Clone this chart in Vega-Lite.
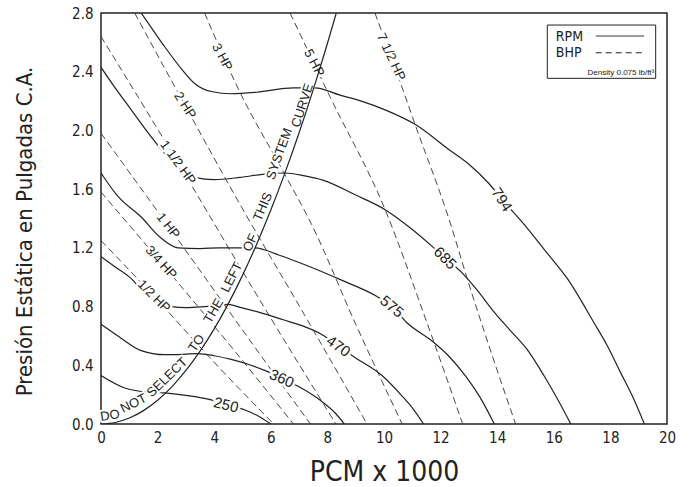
{
  "$schema": "https://vega.github.io/schema/vega-lite/v6.json",
  "width": 566,
  "height": 411,
  "autosize": {"type": "none"},
  "padding": {"left": 101, "top": 13, "right": 22, "bottom": 63},
  "background": "white",
  "config": {
    "view": {"stroke": "#222", "strokeWidth": 1.5},
    "axis": {
      "grid": false, "ticks": false, "domain": false,
      "labelFont": "DejaVu Sans Condensed, sans-serif",
      "titleFont": "DejaVu Sans Condensed, sans-serif",
      "labelFontSize": 15, "labelColor": "#222", "titleColor": "#222",
      "titleFontWeight": "normal", "labelFlush": false, "labelOverlap": false
    }
  },
  "datasets": {
    "rpm": [
      {"rpm": "250", "x": 0, "y": 0.33}, {"rpm": "250", "x": 0.84, "y": 0.245}, {"rpm": "250", "x": 1.6, "y": 0.218}, {"rpm": "250", "x": 2.25, "y": 0.212}, {"rpm": "250", "x": 3.0, "y": 0.195}, {"rpm": "250", "x": 3.78, "y": 0.17}, {"rpm": "250", "x": 4.4, "y": 0.135}, {"rpm": "250", "x": 5.09, "y": 0.095}, {"rpm": "250", "x": 5.6, "y": 0.05}, {"rpm": "250", "x": 6.0, "y": 0},
      {"rpm": "360", "x": 0, "y": 0.68}, {"rpm": "360", "x": 0.6, "y": 0.6}, {"rpm": "360", "x": 1.42, "y": 0.5}, {"rpm": "360", "x": 2.25, "y": 0.472}, {"rpm": "360", "x": 2.9, "y": 0.475}, {"rpm": "360", "x": 3.43, "y": 0.48}, {"rpm": "360", "x": 4.0, "y": 0.465}, {"rpm": "360", "x": 4.6, "y": 0.44}, {"rpm": "360", "x": 5.3, "y": 0.4}, {"rpm": "360", "x": 5.85, "y": 0.36}, {"rpm": "360", "x": 6.4, "y": 0.31}, {"rpm": "360", "x": 7.03, "y": 0.25}, {"rpm": "360", "x": 7.86, "y": 0.145}, {"rpm": "360", "x": 8.3, "y": 0.07}, {"rpm": "360", "x": 8.6, "y": 0},
      {"rpm": "470", "x": 0, "y": 1.14}, {"rpm": "470", "x": 0.5, "y": 1.07}, {"rpm": "470", "x": 1.07, "y": 0.99}, {"rpm": "470", "x": 1.54, "y": 0.89}, {"rpm": "470", "x": 2.0, "y": 0.83}, {"rpm": "470", "x": 2.49, "y": 0.8}, {"rpm": "470", "x": 3.0, "y": 0.793}, {"rpm": "470", "x": 3.66, "y": 0.8}, {"rpm": "470", "x": 4.49, "y": 0.815}, {"rpm": "470", "x": 4.91, "y": 0.795}, {"rpm": "470", "x": 5.6, "y": 0.76}, {"rpm": "470", "x": 6.44, "y": 0.71}, {"rpm": "470", "x": 7.1, "y": 0.67}, {"rpm": "470", "x": 7.8, "y": 0.61}, {"rpm": "470", "x": 8.4, "y": 0.53}, {"rpm": "470", "x": 9.0, "y": 0.45}, {"rpm": "470", "x": 9.93, "y": 0.33}, {"rpm": "470", "x": 10.64, "y": 0.19}, {"rpm": "470", "x": 11.0, "y": 0.11}, {"rpm": "470", "x": 11.4, "y": 0},
      {"rpm": "575", "x": 0, "y": 1.71}, {"rpm": "575", "x": 0.6, "y": 1.55}, {"rpm": "575", "x": 1.42, "y": 1.41}, {"rpm": "575", "x": 2.1, "y": 1.27}, {"rpm": "575", "x": 2.72, "y": 1.2}, {"rpm": "575", "x": 3.5, "y": 1.195}, {"rpm": "575", "x": 4.2, "y": 1.2}, {"rpm": "575", "x": 4.72, "y": 1.2}, {"rpm": "575", "x": 5.44, "y": 1.2}, {"rpm": "575", "x": 6.3, "y": 1.15}, {"rpm": "575", "x": 7.27, "y": 1.08}, {"rpm": "575", "x": 8.5, "y": 0.98}, {"rpm": "575", "x": 9.74, "y": 0.87}, {"rpm": "575", "x": 10.28, "y": 0.8}, {"rpm": "575", "x": 10.81, "y": 0.69}, {"rpm": "575", "x": 11.7, "y": 0.565}, {"rpm": "575", "x": 12.3, "y": 0.46}, {"rpm": "575", "x": 12.87, "y": 0.33}, {"rpm": "575", "x": 13.4, "y": 0.18}, {"rpm": "575", "x": 13.9, "y": 0},
      {"rpm": "685", "x": 0, "y": 2.43}, {"rpm": "685", "x": 0.5, "y": 2.29}, {"rpm": "685", "x": 1.07, "y": 2.14}, {"rpm": "685", "x": 1.6, "y": 2.0}, {"rpm": "685", "x": 2.13, "y": 1.87}, {"rpm": "685", "x": 2.7, "y": 1.75}, {"rpm": "685", "x": 3.31, "y": 1.68}, {"rpm": "685", "x": 4.0, "y": 1.665}, {"rpm": "685", "x": 4.91, "y": 1.68}, {"rpm": "685", "x": 5.7, "y": 1.7}, {"rpm": "685", "x": 6.5, "y": 1.71}, {"rpm": "685", "x": 7.2, "y": 1.69}, {"rpm": "685", "x": 7.86, "y": 1.66}, {"rpm": "685", "x": 9.0, "y": 1.56}, {"rpm": "685", "x": 10.04, "y": 1.46}, {"rpm": "685", "x": 10.9, "y": 1.34}, {"rpm": "685", "x": 11.7, "y": 1.21}, {"rpm": "685", "x": 12.16, "y": 1.13}, {"rpm": "685", "x": 12.76, "y": 1.03}, {"rpm": "685", "x": 13.3, "y": 0.91}, {"rpm": "685", "x": 13.82, "y": 0.78}, {"rpm": "685", "x": 14.45, "y": 0.64}, {"rpm": "685", "x": 15.05, "y": 0.51}, {"rpm": "685", "x": 15.65, "y": 0.33}, {"rpm": "685", "x": 16.1, "y": 0.18}, {"rpm": "685", "x": 16.6, "y": 0},
      {"rpm": "794", "x": 1.42, "y": 2.8}, {"rpm": "794", "x": 1.85, "y": 2.68}, {"rpm": "794", "x": 2.25, "y": 2.57}, {"rpm": "794", "x": 2.84, "y": 2.42}, {"rpm": "794", "x": 3.31, "y": 2.32}, {"rpm": "794", "x": 3.9, "y": 2.265}, {"rpm": "794", "x": 4.6, "y": 2.25}, {"rpm": "794", "x": 5.5, "y": 2.26}, {"rpm": "794", "x": 6.8, "y": 2.29}, {"rpm": "794", "x": 7.56, "y": 2.29}, {"rpm": "794", "x": 8.45, "y": 2.24}, {"rpm": "794", "x": 9.2, "y": 2.2}, {"rpm": "794", "x": 10.04, "y": 2.14}, {"rpm": "794", "x": 11.11, "y": 2.04}, {"rpm": "794", "x": 12.29, "y": 1.87}, {"rpm": "794", "x": 13.0, "y": 1.77}, {"rpm": "794", "x": 13.7, "y": 1.64}, {"rpm": "794", "x": 14.17, "y": 1.53}, {"rpm": "794", "x": 14.95, "y": 1.36}, {"rpm": "794", "x": 15.7, "y": 1.18}, {"rpm": "794", "x": 16.48, "y": 0.99}, {"rpm": "794", "x": 17.42, "y": 0.69}, {"rpm": "794", "x": 17.9, "y": 0.53}, {"rpm": "794", "x": 18.36, "y": 0.35}, {"rpm": "794", "x": 18.8, "y": 0.18}, {"rpm": "794", "x": 19.2, "y": 0}
    ],
    "bhp": [
      {"hp": "1/2", "x": 0, "y": 1.25}, {"hp": "1/2", "x": 1.87, "y": 0.87}, {"hp": "1/2", "x": 4.0, "y": 0.42}, {"hp": "1/2", "x": 6.1, "y": 0},
      {"hp": "3/4", "x": 0, "y": 1.58}, {"hp": "3/4", "x": 2.12, "y": 1.1}, {"hp": "3/4", "x": 4.5, "y": 0.55}, {"hp": "3/4", "x": 6.8, "y": 0},
      {"hp": "1", "x": 0, "y": 1.98}, {"hp": "1", "x": 2.37, "y": 1.35}, {"hp": "1", "x": 5.0, "y": 0.64}, {"hp": "1", "x": 7.4, "y": 0},
      {"hp": "1 1/2", "x": 0, "y": 2.64}, {"hp": "1 1/2", "x": 2.72, "y": 1.78}, {"hp": "1 1/2", "x": 5.5, "y": 0.88}, {"hp": "1 1/2", "x": 8.3, "y": 0},
      {"hp": "2", "x": 1.19, "y": 2.8}, {"hp": "2", "x": 2.97, "y": 2.17}, {"hp": "2", "x": 4.96, "y": 1.48}, {"hp": "2", "x": 7.2, "y": 0.74}, {"hp": "2", "x": 9.4, "y": 0},
      {"hp": "3", "x": 3.66, "y": 2.8}, {"hp": "3", "x": 4.91, "y": 2.26}, {"hp": "3", "x": 6.44, "y": 1.72}, {"hp": "3", "x": 7.44, "y": 1.36}, {"hp": "3", "x": 9.0, "y": 0.68}, {"hp": "3", "x": 10.64, "y": 0},
      {"hp": "5", "x": 6.68, "y": 2.8}, {"hp": "5", "x": 8.09, "y": 2.23}, {"hp": "5", "x": 10.04, "y": 1.46}, {"hp": "5", "x": 11.5, "y": 0.7}, {"hp": "5", "x": 12.78, "y": 0},
      {"hp": "7 1/2", "x": 9.68, "y": 2.8}, {"hp": "7 1/2", "x": 10.7, "y": 2.26}, {"hp": "7 1/2", "x": 11.1, "y": 2.04}, {"hp": "7 1/2", "x": 12.29, "y": 1.4}, {"hp": "7 1/2", "x": 12.99, "y": 0.96}, {"hp": "7 1/2", "x": 13.8, "y": 0.48}, {"hp": "7 1/2", "x": 14.65, "y": 0}
    ],
    "system": [
      {"x": 0, "y": 0}, {"x": 0.5, "y": 0.0101}, {"x": 1, "y": 0.0405}, {"x": 1.5, "y": 0.0911}, {"x": 2, "y": 0.162}, {"x": 2.5, "y": 0.2531}, {"x": 3, "y": 0.3645}, {"x": 3.5, "y": 0.4961}, {"x": 4, "y": 0.648}, {"x": 4.5, "y": 0.8201}, {"x": 5, "y": 1.0125}, {"x": 5.5, "y": 1.2251}, {"x": 6, "y": 1.458}, {"x": 6.5, "y": 1.7111}, {"x": 7, "y": 1.9845}, {"x": 7.5, "y": 2.2781}, {"x": 8, "y": 2.592}, {"x": 8.31, "y": 2.7968}
    ],
    "labels": [
      {"x": 4.42, "y": 0.13, "t": "250", "a": 14, "s": 15},
      {"x": 6.39, "y": 0.31, "t": "360", "a": 24, "s": 15},
      {"x": 8.39, "y": 0.53, "t": "470", "a": 35, "s": 15},
      {"x": 10.28, "y": 0.8, "t": "575", "a": 40, "s": 15},
      {"x": 12.16, "y": 1.13, "t": "685", "a": 45, "s": 15},
      {"x": 14.17, "y": 1.53, "t": "794", "a": 57, "s": 15},
      {"x": 1.87, "y": 0.87, "t": "1/2 HP", "a": 45, "s": 13},
      {"x": 2.12, "y": 1.1, "t": "3/4 HP", "a": 48, "s": 13},
      {"x": 2.37, "y": 1.35, "t": "1 HP", "a": 52, "s": 13},
      {"x": 2.72, "y": 1.78, "t": "1 1/2 HP", "a": 54, "s": 13},
      {"x": 2.97, "y": 2.17, "t": "2 HP", "a": 57, "s": 13},
      {"x": 4.28, "y": 2.5, "t": "3 HP", "a": 62, "s": 13},
      {"x": 7.53, "y": 2.46, "t": "5 HP", "a": 62, "s": 13},
      {"x": 10.25, "y": 2.5, "t": "7 1/2 HP", "a": 65, "s": 13}
    ],
    "words": [
      {"x": 0.32, "y": 0.058, "t": "DO", "a": -9},
      {"x": 1.15, "y": 0.14, "t": "NOT", "a": -26},
      {"x": 2.34, "y": 0.318, "t": "SELECT", "a": -44},
      {"x": 3.38, "y": 0.55, "t": "TO", "a": -55},
      {"x": 3.98, "y": 0.77, "t": "THE", "a": -60},
      {"x": 4.62, "y": 1.0, "t": "LEFT", "a": -63},
      {"x": 5.28, "y": 1.235, "t": "OF", "a": -65},
      {"x": 5.72, "y": 1.48, "t": "THIS", "a": -67},
      {"x": 6.3, "y": 1.84, "t": "SYSTEM", "a": -70},
      {"x": 7.12, "y": 2.17, "t": "CURVE", "a": -72}
    ],
    "legendbox": [{"x": 15.77, "x2": 19.6, "y": 2.355, "y2": 2.718}],
    "legendlines": [
      {"k": "RPM", "x": 17.48, "x2": 19.19, "y": 2.643},
      {"k": "BHP", "x": 17.48, "x2": 19.19, "y": 2.529}
    ],
    "legendtext": [
      {"t": "RPM", "x": 16.07, "y": 2.635},
      {"t": "BHP", "x": 16.07, "y": 2.525}
    ],
    "legendnote": [{"t": "Density 0.075 lb/ft³", "x": 19.55, "y": 2.39}]
  },
  "encoding": {
    "x": {"field": "x", "type": "quantitative", "scale": {"domain": [0, 20], "nice": false},
      "axis": {"title": "PCM x 1000", "values": [0, 2, 4, 6, 8, 10, 12, 14, 16, 18, 20], "titleFontSize": 28, "labelPadding": 6, "titlePadding": 13}},
    "y": {"field": "y", "type": "quantitative", "scale": {"domain": [0, 2.8], "nice": false},
      "axis": {"title": "Presión Estática en Pulgadas C.A.", "values": [0, 0.4, 0.8, 1.2, 1.6, 2.0, 2.4, 2.8], "format": ".1f", "titleFontSize": 22, "labelPadding": 8, "titlePadding": 35, "titleY": 218}}
  },
  "layer": [
    {"data": {"name": "rpm"}, "mark": {"type": "line", "interpolate": "monotone", "color": "#222", "strokeWidth": 1.2, "clip": true},
      "encoding": {"detail": {"field": "rpm"}}},
    {"data": {"name": "bhp"}, "mark": {"type": "line", "interpolate": "monotone", "color": "#333", "strokeWidth": 0.9, "strokeDash": [7, 4], "clip": true},
      "encoding": {"detail": {"field": "hp"}}},
    {"data": {"name": "labels"}, "mark": {"type": "text", "font": "Liberation Sans, sans-serif", "baseline": "middle", "align": "center", "stroke": "white", "strokeWidth": 5, "fill": "white", "strokeJoin": "round"},
      "encoding": {"text": {"field": "t"}, "angle": {"field": "a", "type": "quantitative", "scale": null}, "size": {"field": "s", "type": "quantitative", "scale": null}}},
    {"data": {"name": "words"}, "mark": {"type": "text", "font": "Liberation Sans, sans-serif", "fontSize": 13, "baseline": "middle", "align": "center", "stroke": "white", "strokeWidth": 4, "fill": "white", "strokeJoin": "round"},
      "encoding": {"text": {"field": "t"}, "angle": {"field": "a", "type": "quantitative", "scale": null}}},
    {"data": {"name": "system"}, "mark": {"type": "line", "interpolate": "monotone", "color": "#222", "strokeWidth": 1.2, "clip": true},
      "encoding": {}},
    {"data": {"name": "labels"}, "mark": {"type": "text", "font": "Liberation Sans, sans-serif", "baseline": "middle", "align": "center", "color": "#222"},
      "encoding": {"text": {"field": "t"}, "angle": {"field": "a", "type": "quantitative", "scale": null}, "size": {"field": "s", "type": "quantitative", "scale": null}}},
    {"data": {"name": "words"}, "mark": {"type": "text", "font": "Liberation Sans, sans-serif", "fontSize": 13, "baseline": "middle", "align": "center", "color": "#222"},
      "encoding": {"text": {"field": "t"}, "angle": {"field": "a", "type": "quantitative", "scale": null}}},
    {"data": {"name": "legendbox"}, "mark": {"type": "rect", "fill": "white", "stroke": "#222", "strokeWidth": 1},
      "encoding": {"x2": {"field": "x2"}, "y2": {"field": "y2"}}},
    {"data": {"name": "legendlines"}, "mark": {"type": "rule", "color": "#222", "strokeWidth": 1},
      "encoding": {"x2": {"field": "x2"}, "strokeDash": {"field": "k", "type": "nominal", "scale": {"domain": ["RPM", "BHP"], "range": [[1, 0], [6, 4]]}, "legend": null}}},
    {"data": {"name": "legendtext"}, "mark": {"type": "text", "font": "DejaVu Sans Condensed, sans-serif", "fontSize": 14, "align": "left", "baseline": "middle", "color": "#222"},
      "encoding": {"text": {"field": "t"}}},
    {"data": {"name": "legendnote"}, "mark": {"type": "text", "font": "Liberation Sans, sans-serif", "fontSize": 8, "align": "right", "baseline": "middle", "color": "#222"},
      "encoding": {"text": {"field": "t"}}}
  ]
}
